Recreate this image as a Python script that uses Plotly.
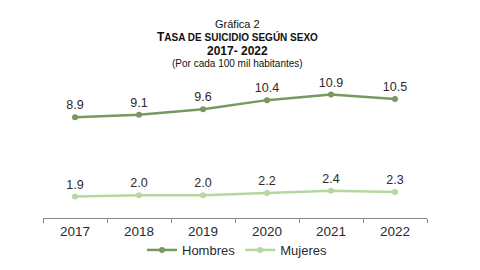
import plotly.graph_objects as go

years = ["2017", "2018", "2019", "2020", "2021", "2022"]
hombres = [8.9, 9.1, 9.6, 10.4, 10.9, 10.5]
mujeres = [1.9, 2.0, 2.0, 2.2, 2.4, 2.3]

c_h = "#77985f"
c_m = "#b6d79f"
txt = "#2b2b2b"
font_family = "Liberation Sans, Arial, sans-serif"

fig = go.Figure()
fig.add_trace(go.Scatter(
    x=years, y=hombres, name="Hombres", mode="lines+markers+text",
    line=dict(color=c_h, width=2.5), marker=dict(color=c_h, size=6),
    text=[f"{v:.1f}" for v in hombres], textposition="top center",
    textfont=dict(size=12.5, color=txt, family=font_family),
    cliponaxis=False,
))
fig.add_trace(go.Scatter(
    x=years, y=mujeres, name="Mujeres", mode="lines+markers+text",
    line=dict(color=c_m, width=2.5), marker=dict(color=c_m, size=6),
    text=[f"{v:.1f}" for v in mujeres], textposition="top center",
    textfont=dict(size=12.5, color=txt, family=font_family),
    cliponaxis=False,
))

titles = [
    ("Gráfica 2", 24, 11),
    ("<b><span style='font-size:12px'>T</span>ASA DE SUICIDIO SEGÚN SEXO</b>", 37, 10),
    ("<b>2017- 2022</b>", 51, 12),
    ("(Por cada 100 mil habitantes)", 63, 10),
]
W, H = 480, 270
ml, mr, mt, mb = 43, 53, 82, 52
pw, ph = W - ml - mr, H - mt - mb
annotations = []
for t, yp, fs in titles:
    annotations.append(dict(
        text=t, x=(237 - ml) / pw, y=(H - mb - yp) / ph,
        xref="paper", yref="paper", showarrow=False,
        xanchor="center", yanchor="middle",
        font=dict(size=fs, color="#111111", family=font_family),
    ))

fig.update_layout(
    width=W, height=H,
    margin=dict(l=ml, r=mr, t=mt, b=mb, autoexpand=False),
    paper_bgcolor="white", plot_bgcolor="white",
    font=dict(family=font_family, color=txt),
    showlegend=True,
    legend=dict(orientation="h", x=(237 - ml) / pw, xanchor="center",
                y=(H - mb - 250) / ph, yanchor="middle",
                bgcolor="rgba(0,0,0,0)",
                font=dict(size=13, color=txt, family=font_family),
                itemwidth=30, tracegroupgap=0),
    annotations=annotations,
    xaxis=dict(type="category", range=[-0.5, 5.5], showgrid=False, showline=True,
               linecolor="#888888", linewidth=1, ticks="outside",
               tickson="boundaries", ticklen=4, ticklabelstandoff=1,
               tickcolor="#888888", tickfont=dict(size=13.5, color=txt),
               zeroline=False, fixedrange=True, automargin=False),
    yaxis=dict(range=[0, 12], visible=False, showgrid=False, zeroline=False),
)

fig.write_html("out.html")
